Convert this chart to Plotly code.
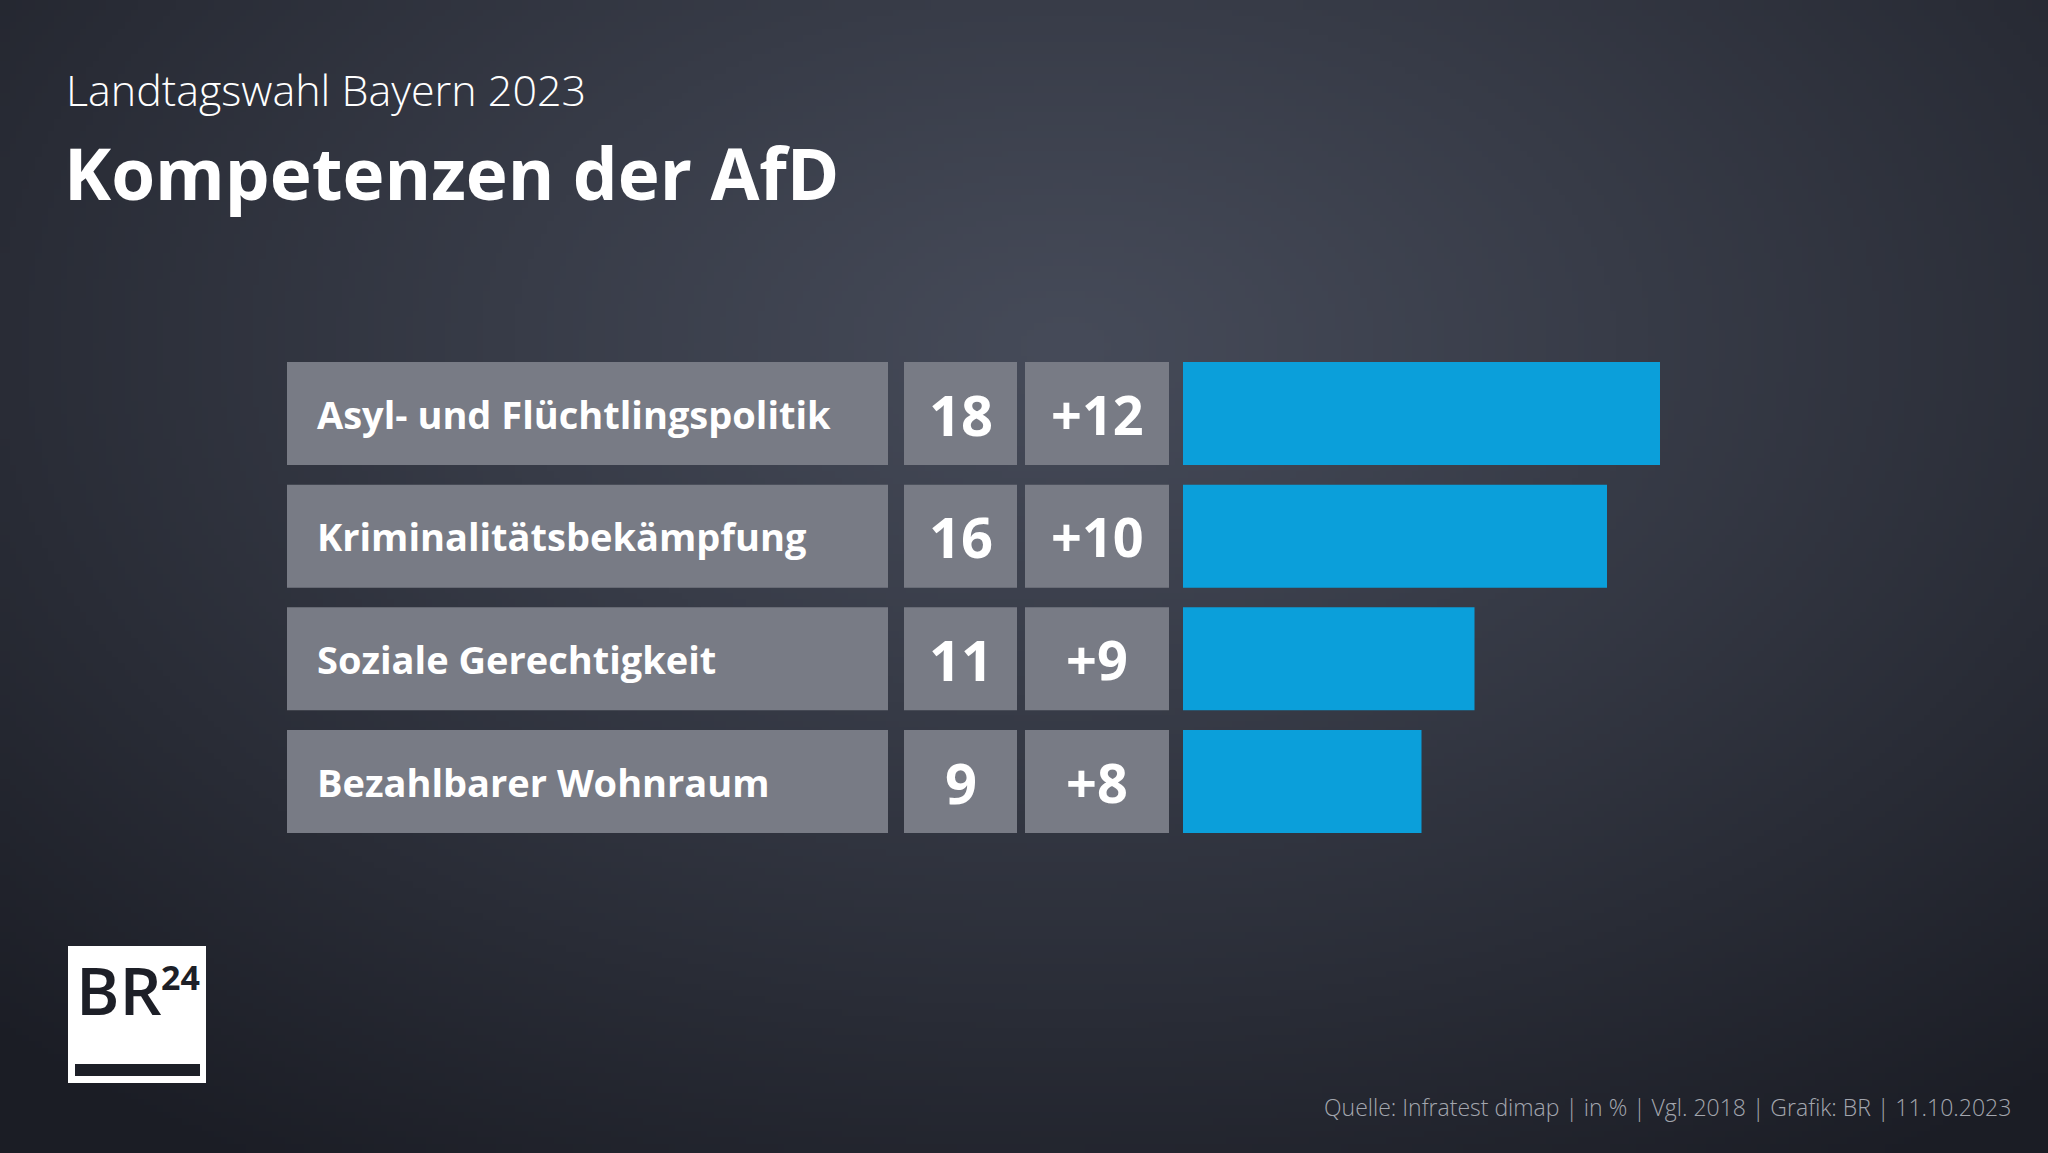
import base64, struct, zlib
import numpy as np
import plotly.graph_objects as go

# ---------------- data ----------------
categories = ["Asyl- und Flüchtlingspolitik", "Kriminalitätsbekämpfung",
              "Soziale Gerechtigkeit", "Bezahlbarer Wohnraum"]
values = [18, 16, 11, 9]
changes = [12, 10, 9, 8]
change_labels = [f"+{c}" for c in changes]
title_top = "Landtagswahl Bayern 2023"
title_main = "Kompetenzen der AfD"
source = "Quelle: Infratest dimap | in % | Vgl. 2018 | Grafik: BR | 11.10.2023"

W, H = 2048, 1153
BOX = "#787b85"
BLUE = "#0b9fda"
FONT = "Open Sans"

# ---------------- background gradient image ----------------
def png_uri(arr):
    h, w, _ = arr.shape
    raw = b"".join(b"\x00" + arr[i].tobytes() for i in range(h))
    def chunk(t, d):
        c = struct.pack(">I", len(d)) + t + d
        return c + struct.pack(">I", zlib.crc32(t + d) & 0xffffffff)
    png = b"\x89PNG\r\n\x1a\n" + chunk(b"IHDR", struct.pack(">IIBBBBB", w, h, 8, 2, 0, 0, 0))
    png += chunk(b"IDAT", zlib.compress(raw, 9)) + chunk(b"IEND", b"")
    return "data:image/png;base64," + base64.b64encode(png).decode()

gw, gh = 320, 180
u = (np.arange(gw) + 0.5) / gw
v = (np.arange(gh) + 0.5) / gh
U, V = np.meshgrid(u, v)
d = np.sqrt(((U - 0.52) / 0.75) ** 2 + ((V - 0.3) / 0.85) ** 2)
t = np.clip(d, 0, 1) ** 1.1
light = np.array([70, 75, 89], float)
dark = np.array([27, 29, 37], float)
img = (light[None, None, :] * (1 - t[..., None]) + dark[None, None, :] * t[..., None])
img = np.clip(img, 0, 255).astype(np.uint8)
bg_uri = png_uri(img)

# ---------------- figure ----------------
fig = go.Figure()
n = len(categories)

for ax in ("x2", "x3", "x4"):
    fig.add_trace(go.Bar(y=categories, x=[1] * n, orientation="h", xaxis=ax, yaxis="y",
                         marker=dict(color=BOX, line=dict(width=0)), hoverinfo="skip"))
fig.add_trace(go.Bar(y=categories, x=values, orientation="h", xaxis="x", yaxis="y",
                     marker=dict(color=BLUE, line=dict(width=0)), hoverinfo="skip"))

annotations = []
for cat, val, ch in zip(categories, values, change_labels):
    annotations.append(dict(text=cat, xref="x2", yref="y", x=0.047, y=cat, xanchor="left",
                            yanchor="middle", yshift=0, showarrow=False,
                            font=dict(family=FONT, size=38, color="white", weight=700)))
    annotations.append(dict(text=str(val), xref="x3", yref="y", x=0.5, y=cat, xanchor="center",
                            yanchor="middle", yshift=0, showarrow=False,
                            font=dict(family=FONT, size=56, color="white", weight=700)))
    annotations.append(dict(text=ch, xref="x4", yref="y", x=0.5, y=cat, xanchor="center",
                            yanchor="middle", yshift=0, showarrow=False,
                            font=dict(family=FONT, size=54, color="white", weight=700)))

px_per_unit = 26.5
bar_x0, bar_x1 = 1183, 1950
hidden = dict(showgrid=False, zeroline=False, showticklabels=False, showline=False, ticks="")

row_top, row_pitch = 362, 122.67
y_top_px = row_top + 0.5 * 103 - 0.5 * row_pitch
y_bot_px = y_top_px + n * row_pitch

annotations += [
    dict(text=title_top, xref="paper", yref="paper", x=64 / W, y=1 - 89 / H,
         xanchor="left", yanchor="middle", showarrow=False,
         font=dict(family=FONT, size=43, color="white", weight=300)),
    dict(text=title_main, xref="paper", yref="paper", x=62 / W, y=1 - 172 / H,
         xanchor="left", yanchor="middle", showarrow=False,
         font=dict(family=FONT, size=71, color="white", weight=700)),
    dict(text=source, xref="paper", yref="paper", x=2013 / W, y=1 - 1107 / H,
         xanchor="right", yanchor="middle", showarrow=False,
         font=dict(family=FONT, size=23, color="#a3a6ae", weight=300)),
    dict(text="BR", xref="paper", yref="paper", x=74 / W, y=1 - 989 / H,
         xanchor="left", yanchor="middle", showarrow=False,
         font=dict(family=FONT, size=66, color="#1d1f27", weight=600)),
    dict(text="24", xref="paper", yref="paper", x=159 / W, y=1 - 977 / H,
         xanchor="left", yanchor="middle", showarrow=False,
         font=dict(family=FONT, size=34, color="#1d1f27", weight=700)),
]

fig.update_layout(
    width=W, height=H,
    margin=dict(l=0, r=0, t=0, b=0),
    paper_bgcolor="#2a2d37", plot_bgcolor="rgba(0,0,0,0)",
    showlegend=False, bargap=1 - 103 / row_pitch, barmode="overlay",
    xaxis=dict(domain=[bar_x0 / W, bar_x1 / W], range=[0, (bar_x1 - bar_x0) / px_per_unit],
               anchor="y", **hidden),
    xaxis2=dict(domain=[287 / W, 888 / W], range=[0, 1], anchor="y", **hidden),
    xaxis3=dict(domain=[904 / W, 1017 / W], range=[0, 1], anchor="y", **hidden),
    xaxis4=dict(domain=[1025 / W, 1169 / W], range=[0, 1], anchor="y", **hidden),
    yaxis=dict(domain=[1 - y_bot_px / H, 1 - y_top_px / H], type="category",
               categoryorder="array", categoryarray=categories,
               range=[n - 0.5, -0.5], **hidden),
    images=[dict(source=bg_uri, xref="paper", yref="paper", x=0, y=1, sizex=1, sizey=1,
                 sizing="stretch", layer="below")],
    shapes=[
        dict(type="rect", xref="paper", yref="paper", x0=68 / W, x1=206 / W,
             y0=1 - 1083 / H, y1=1 - 946 / H, fillcolor="white", line=dict(width=0)),
        dict(type="rect", xref="paper", yref="paper", x0=75 / W, x1=200 / W,
             y0=1 - 1076 / H, y1=1 - 1064 / H, fillcolor="#1d1f27", line=dict(width=0)),
    ],
    annotations=annotations,
)

fig.write_html("out.html", config={"displayModeBar": False},
               post_script="document.body.style.margin='0';")
